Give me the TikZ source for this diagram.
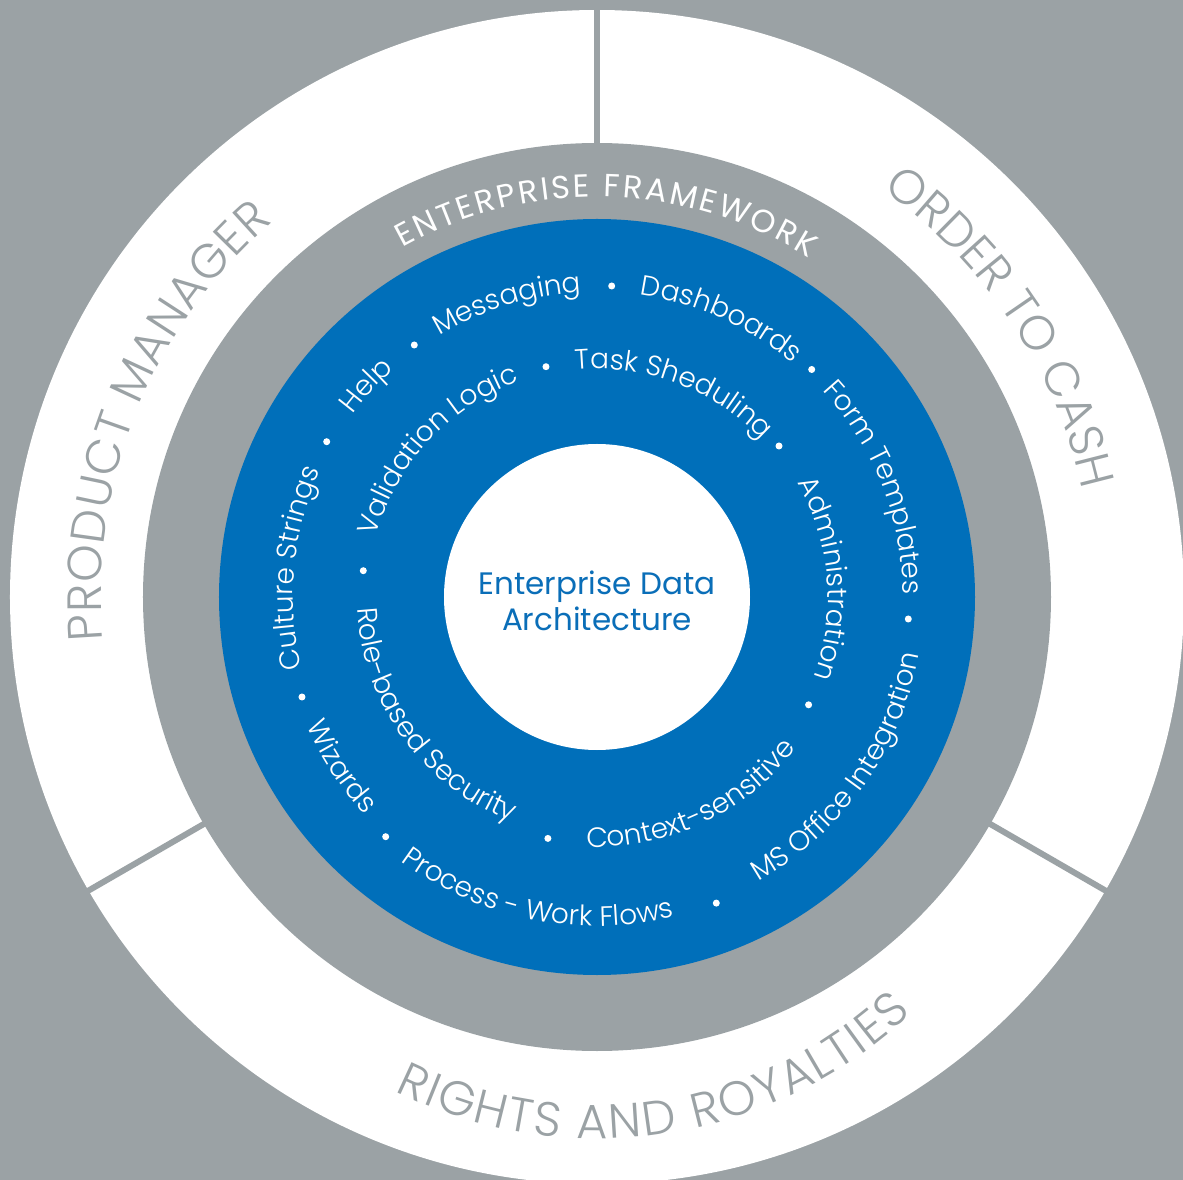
\documentclass[tikz,border=0pt]{standalone}
\usepackage{fontspec}
\IfFontExistsTF{Poppins Light}{\setmainfont{Poppins Light}}{\setmainfont{Poppins}}
\newfontfamily\regfont{Poppins}
\usetikzlibrary{decorations.text}
\definecolor{ringgray}{HTML}{9BA2A5}
\definecolor{coreblue}{HTML}{006FBA}
\definecolor{titleblue}{HTML}{0A6EB8}

% clockwise word, centred: radius, centre angle, text
\newcommand\cwword[3]{%
  \path[decorate,decoration={text along path,text align=center,text color=white,
    text={|\fontsize{28pt}{28pt}\selectfont|#3}}]
    ({#2+60}:#1) arc[start angle={#2+60},end angle={#2-60},radius=#1];}
% counter-clockwise word, centred
\newcommand\ccwword[3]{%
  \path[decorate,decoration={text along path,text align=center,text color=white,
    text={|\fontsize{28pt}{28pt}\selectfont|#3}}]
    ({#2-60}:#1) arc[start angle={#2-60},end angle={#2+60},radius=#1];}
% text fitted between two angles: radius, start, end, text, font, colour
\newcommand\fitarc[6]{%
  \path[decorate,decoration={text along path,text align=fit to path,text color=#6,
    text={|#5|#4}}]
    (#2:#1) arc[start angle=#2,end angle=#3,radius=#1];}

\begin{document}
\begin{tikzpicture}
\useasboundingbox (-597pt,-583pt) rectangle (586pt,597pt);
\clip (-597pt,-583pt) rectangle (586pt,597pt);
\fill[ringgray] (-597pt,-583pt) rectangle (586pt,597pt);
% outer white ring with dividers
\fill[white] (0,0) circle[radius=587pt];
\foreach \a in {90,210,330}
  \draw[ringgray,line width=6pt] (\a:440pt) -- (\a:600pt);
\fill[ringgray] (0,0) circle[radius=454pt];
\fill[coreblue] (0,0) circle[radius=378pt];
\fill[white] (0,0) circle[radius=153pt];

\node[name=core,align=center,text=titleblue,font=\regfont\fontsize{31pt}{36pt}\selectfont]
  at (0pt,-4pt) {Enterprise Data\\Architecture};

% outer labels
\fitarc{496pt}{185}{130.8}{PRODUCT MANAGER}{\fontsize{48pt}{48pt}\selectfont}{ringgray}
\fitarc{497pt}{55}{12.5}{ORDER TO CASH}{\fontsize{48pt}{48pt}\selectfont}{ringgray}
\begin{scope}[shift={(0.5pt,-86pt)}]
\fitarc{455.6pt}{243.6}{313.6}{RIGHTS AND ROYALTIES}{\fontsize{48pt}{48pt}\selectfont}{ringgray}
\end{scope}
\fitarc{400pt}{119.1}{58}{ENTERPRISE FRAMEWORK}{\regfont\fontsize{32pt}{32pt}\selectfont}{white}

% outer ring of words
\cwword{305pt}{107}{Messaging}
\cwword{305pt}{66}{Dashboards}
\cwword{306pt}{21.5}{Form Templates}
\ccwword{327pt}{-35.3}{MS Office Integration}
\ccwword{329pt}{258.5}{Process - Work Flows}
\ccwword{318pt}{213.6}{Wizards}
\cwword{304pt}{174.5}{Culture Strings}
\cwword{305pt}{137.5}{Help}

% inner ring of words
\cwword{229pt}{137.3}{Validation Logic}
\cwword{228pt}{69.5}{Task Sheduling}
\cwword{231pt}{4.6}{Administration}
\ccwword{250pt}{-64.8}{Context-sensitive}
\ccwword{240pt}{216}{Role-based Security}

% separating dots
\foreach \p in {(14.7pt,311pt),(214.7pt,227.5pt),(311.3pt,-22pt),(119.3pt,-306.1pt),
  (-211.3pt,-239.7pt),(-295pt,-100pt),(-270.3pt,155.3pt),(-182.7pt,252pt),
  (-51pt,230.3pt),(182pt,151pt),(211.6pt,-107.8pt),(-49.1pt,-241.4pt),(-233.7pt,26.3pt)}
  \fill[white] \p circle[radius=3.5pt];
\end{tikzpicture}
\end{document}
